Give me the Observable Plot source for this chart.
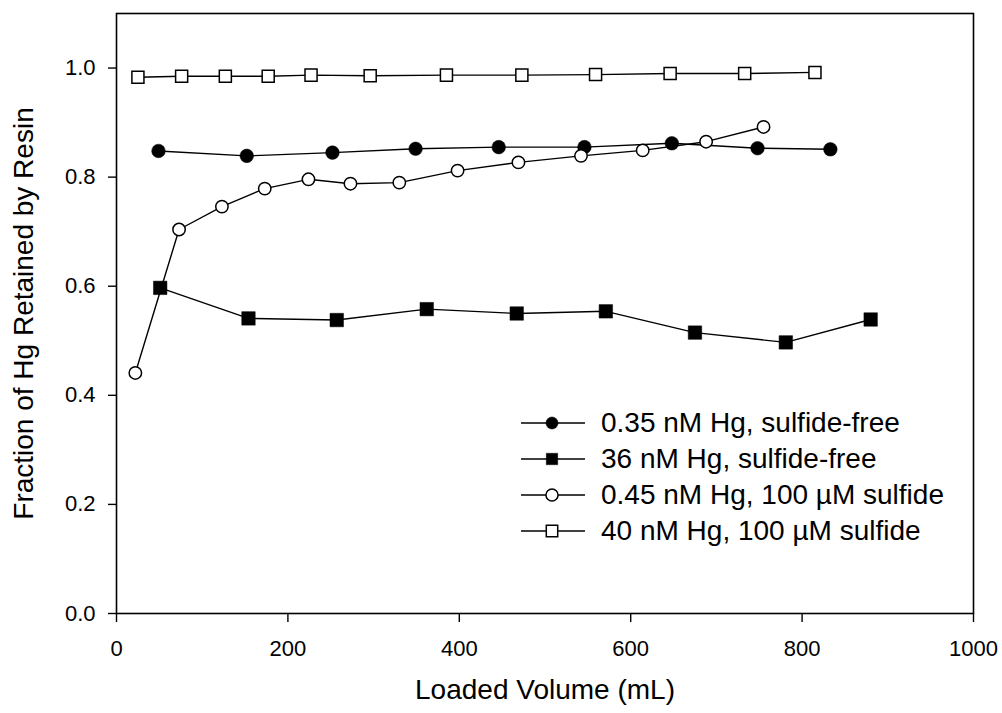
<!DOCTYPE html>
<html>
<head>
<meta charset="utf-8">
<script src="https://cdn.jsdelivr.net/npm/d3@7"></script>
<script src="https://cdn.jsdelivr.net/npm/@observablehq/plot@0.6"></script>
<style>
  html, body { margin: 0; padding: 0; background: #fff; }
  #wrap { position: relative; width: 1002px; height: 713px; font-family: "Liberation Sans", Arial, sans-serif; }
  #legend { position: absolute; left: 520px; top: 405px; font-size: 28px; color: #000; }
  .row { display: flex; align-items: center; height: 36px; }
  .row span { margin-left: 15px; white-space: nowrap; line-height: 36px; }
</style>
</head>
<body>
<div id="wrap"></div>
<script>
// ---- data ----
const seriesNames = [
  "0.35 nM Hg, sulfide-free",
  "36 nM Hg, sulfide-free",
  "0.45 nM Hg, 100 µM sulfide",
  "40 nM Hg, 100 µM sulfide"
];
const vol035 = [49, 152, 252, 349, 446, 546, 648, 748, 833];
const frac035 = [0.848, 0.839, 0.845, 0.852, 0.855, 0.855, 0.862, 0.853, 0.851];
const vol36 = [51, 154, 257, 362, 467, 571, 675, 781, 880];
const frac36 = [0.597, 0.541, 0.538, 0.558, 0.550, 0.554, 0.515, 0.497, 0.539];
const vol045 = [22, 73, 123, 173, 224, 273, 330, 398, 469, 542, 614, 688, 755];
const frac045 = [0.441, 0.704, 0.746, 0.779, 0.796, 0.788, 0.790, 0.812, 0.827, 0.839, 0.849, 0.865, 0.892];
const vol40 = [25, 76, 127, 177, 227, 296, 385, 473, 559, 646, 733, 815];
const frac40 = [0.983, 0.985, 0.985, 0.985, 0.987, 0.986, 0.987, 0.987, 0.988, 0.990, 0.990, 0.992];
const xTicks = [0, 200, 400, 600, 800, 1000];
const yTicks = [0.0, 0.2, 0.4, 0.6, 0.8, 1.0];
const xTitle = "Loaded Volume (mL)";
const yTitle = "Fraction of Hg Retained by Resin";

// ---- build tables ----
const vols = [vol035, vol36, vol045, vol40];
const fracs = [frac035, frac36, frac045, frac40];
const styles = [
  {symbol: "circle", fill: "black", r: 6.8},
  {symbol: "square", fill: "black", r: 7.6},
  {symbol: "circle", fill: "white", r: 6.2},
  {symbol: "square", fill: "white", r: 6.8}
];
const series = seriesNames.map((name, i) => ({
  name,
  style: styles[i],
  data: vols[i].map((v, j) => ({vol: v, frac: fracs[i][j], series: name}))
}));

const marks = [
  Plot.frame({stroke: "black", strokeWidth: 1.6}),
  Plot.axisX({ticks: xTicks, tickSize: 9, tickPadding: 18, fontSize: 22, strokeWidth: 1.4, tickFormat: d => String(d), label: null}),
  Plot.axisY({ticks: yTicks, tickSize: 8, tickPadding: 13, fontSize: 22, strokeWidth: 1.4, tickFormat: d3.format(".1f"), label: null}),
  Plot.text([xTitle], {text: d => d, frameAnchor: "bottom", dy: 77, fontSize: 28, lineAnchor: "middle", textAnchor: "middle"}),
  Plot.text([yTitle], {text: d => d, frameAnchor: "left", dx: -92, rotate: -90, fontSize: 28, lineAnchor: "middle", textAnchor: "middle"})
];
for (const s of series) {
  marks.push(Plot.line(s.data, {x: "vol", y: "frac", stroke: "black", strokeWidth: 1.4}));
}
for (const s of series) {
  marks.push(Plot.dot(s.data, {x: "vol", y: "frac", symbol: s.style.symbol, r: s.style.r,
    fill: s.style.fill, stroke: "black", strokeWidth: s.style.fill === "white" ? 1.5 : 0.5}));
}

const chart = Plot.plot({
  width: 1002,
  height: 713,
  marginTop: 13,
  marginRight: 29,
  marginBottom: 100,
  marginLeft: 116,
  x: {domain: [0, 1000]},
  y: {domain: [0, 1.1]},
  style: {fontFamily: "'Liberation Sans', Arial, sans-serif", color: "black", background: "white", overflow: "visible"},
  marks
});
const wrap = document.getElementById("wrap");
wrap.appendChild(chart);

// ---- legend (HTML overlay) ----
const legend = document.createElement("div");
legend.id = "legend";
for (const s of series) {
  const row = document.createElement("div");
  row.className = "row";
  const svg = d3.create("svg").attr("width", 66).attr("height", 36);
  svg.append("line").attr("x1", 1).attr("x2", 65).attr("y1", 18).attr("y2", 18)
    .attr("stroke", "black").attr("stroke-width", 1.4);
  const size = s.style.symbol === "square" ? 130 : 115;
  const sym = s.style.symbol === "square" ? d3.symbolSquare : d3.symbolCircle;
  svg.append("path").attr("d", d3.symbol(sym, size)())
    .attr("transform", "translate(32,18)")
    .attr("fill", s.style.fill).attr("stroke", "black")
    .attr("stroke-width", s.style.fill === "white" ? 1.5 : 0.5);
  row.appendChild(svg.node());
  const label = document.createElement("span");
  label.textContent = s.name;
  row.appendChild(label);
  legend.appendChild(row);
}
wrap.appendChild(legend);
</script>
</body>
</html>
